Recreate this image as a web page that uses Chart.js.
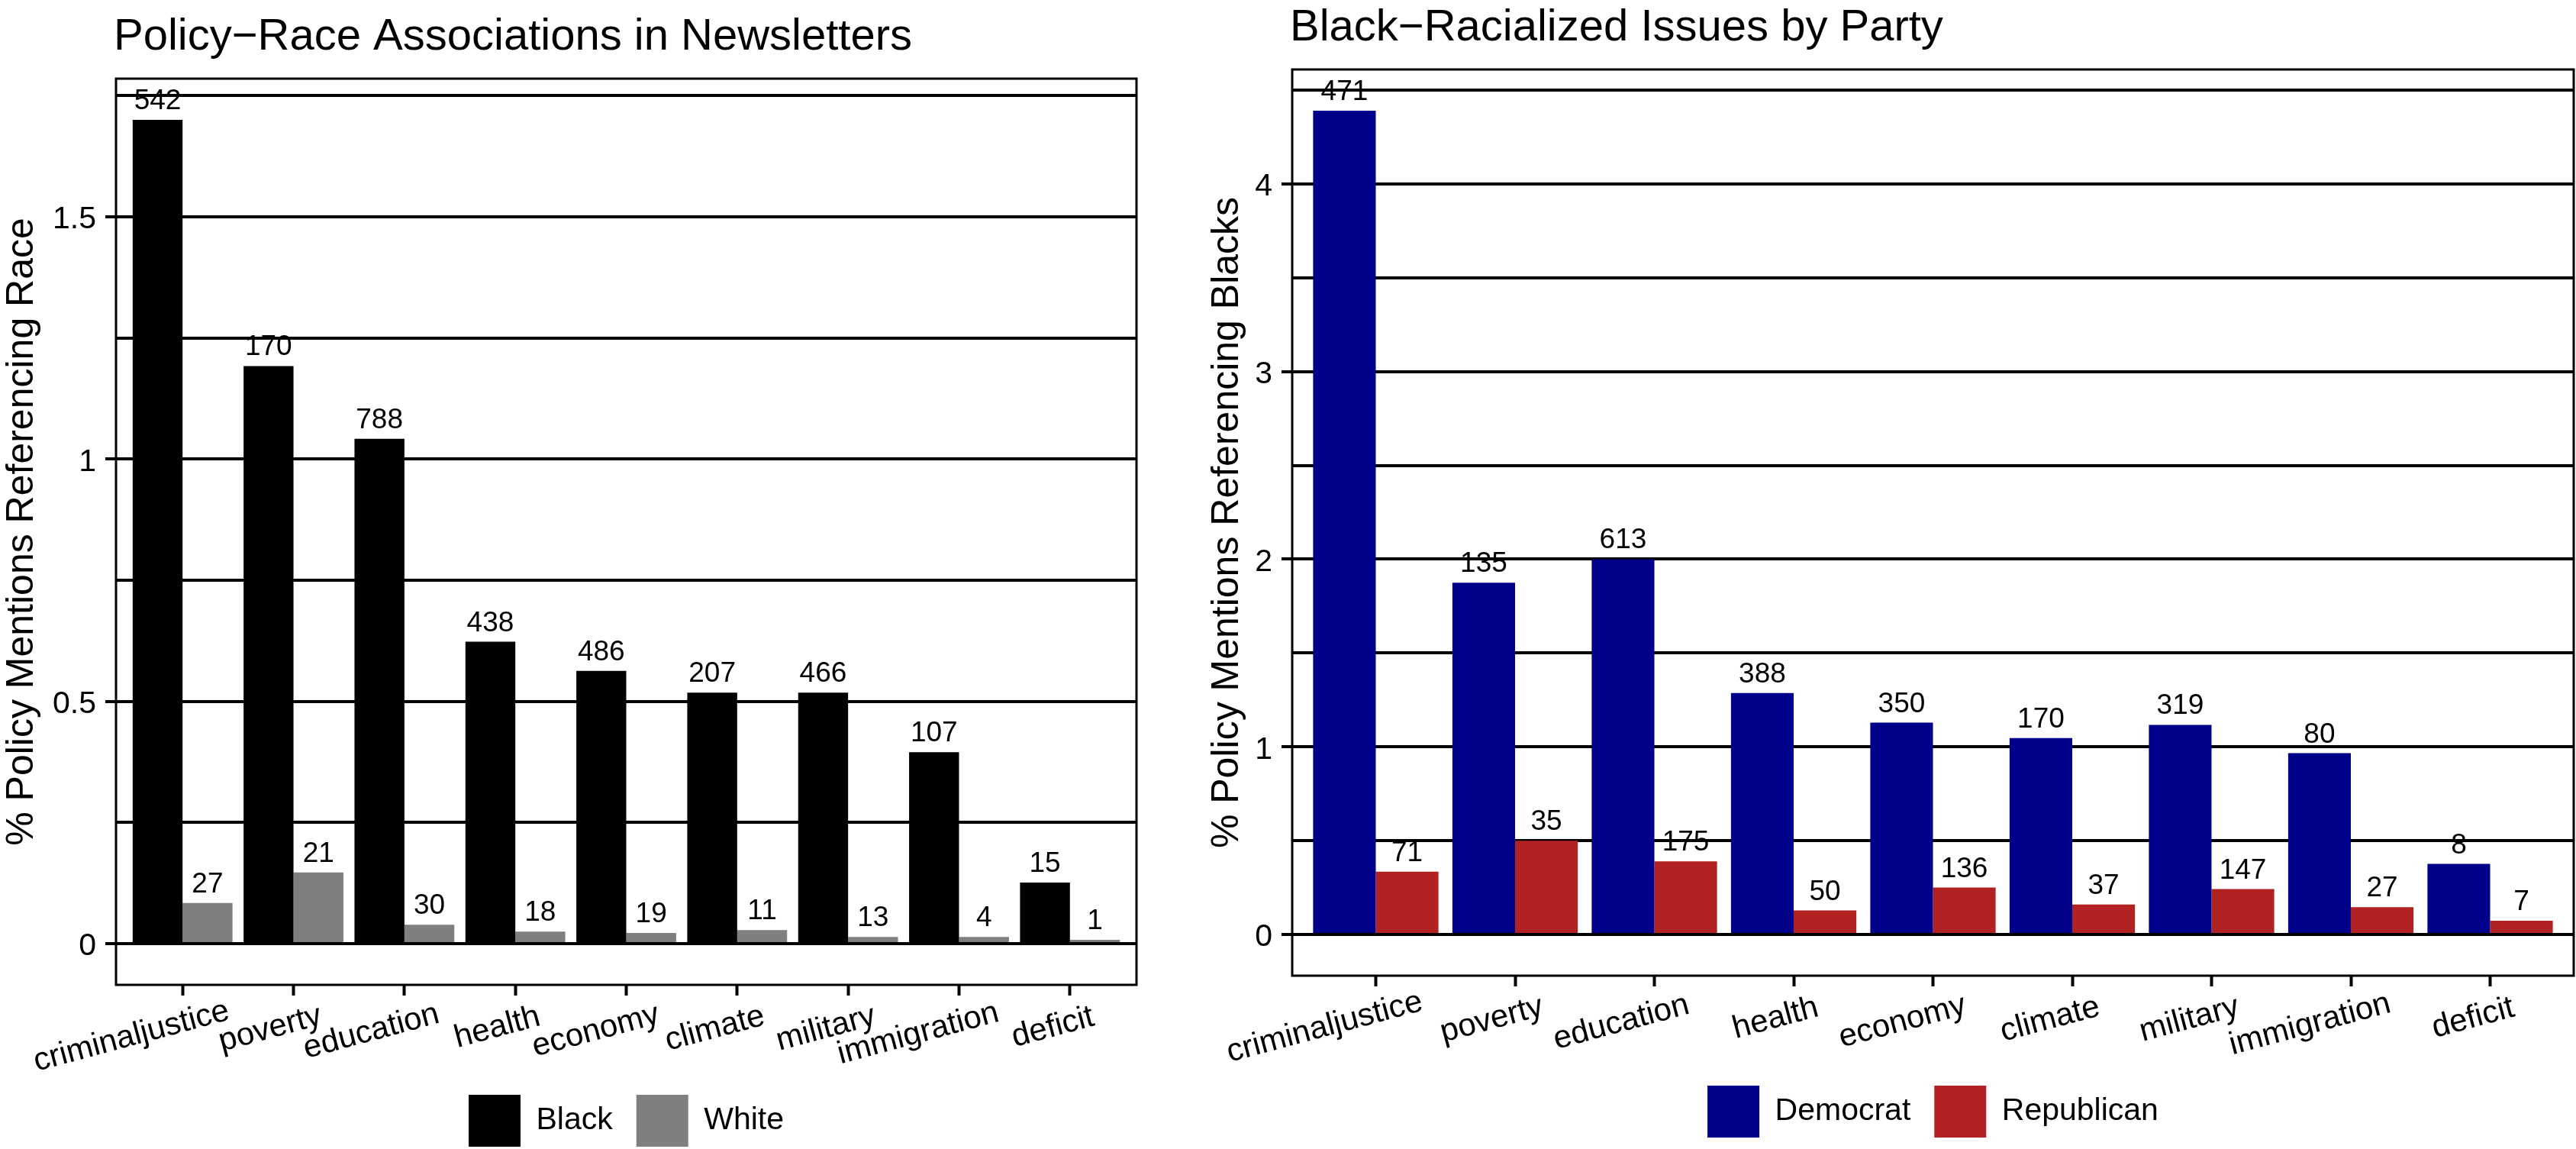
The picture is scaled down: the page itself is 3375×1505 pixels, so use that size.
<!DOCTYPE html>
<html><head><meta charset="utf-8">
<script src="https://cdn.jsdelivr.net/npm/chart.js@4.4.0/dist/chart.umd.min.js"></script>
<style>
html,body{margin:0;padding:0;background:#fff;width:3375px;height:1505px;overflow:hidden;}
.box{position:absolute;top:0;height:1505px;}
</style></head><body>
<div class="box" style="left:0;width:1500px"><canvas id="leftChart"></canvas></div>
<div class="box" style="left:1560px;width:1815px"><canvas id="rightChart"></canvas></div>
<script>
const categories = ['criminaljustice','poverty','education','health','economy','climate','military','immigration','deficit'];

const blackPct = [1.70, 1.192, 1.042, 0.623, 0.563, 0.518, 0.518, 0.395, 0.126];
const whitePct = [0.084, 0.147, 0.039, 0.025, 0.022, 0.028, 0.014, 0.014, 0.008];
const blackCounts = [542, 170, 788, 438, 486, 207, 466, 107, 15];
const whiteCounts = [27, 21, 30, 18, 19, 11, 13, 4, 1];

const demPct = [4.39, 1.875, 2.0, 1.287, 1.129, 1.047, 1.117, 0.966, 0.376];
const repPct = [0.335, 0.50, 0.39, 0.128, 0.25, 0.16, 0.242, 0.146, 0.073];
const demCounts = [471, 135, 613, 388, 350, 170, 319, 80, 8];
const repCounts = [71, 35, 175, 50, 136, 37, 147, 27, 7];

const leftYGrid = [0, 0.25, 0.5, 0.75, 1, 1.25, 1.5, 1.75];
const leftYTickLabels = [0, 0.5, 1, 1.5];
const rightYGrid = [0, 0.5, 1, 1.5, 2, 2.5, 3, 3.5, 4, 4.5];
const rightYTickLabels = [0, 1, 2, 3, 4];

const FONT = "'Liberation Sans', Arial, sans-serif";
const X_LABEL_ANGLE = 15;

function makeChart(id, p) {
  const titlePlugin = {
    id: 'panelTitle',
    afterDraw(chart) {
      const {ctx, chartArea} = chart;
      ctx.save();
      ctx.font = '58px ' + FONT;
      ctx.fillStyle = '#000';
      ctx.textAlign = 'left';
      ctx.textBaseline = 'alphabetic';
      ctx.fillText(p.title, chartArea.left - 3, chartArea.top - 38);
      ctx.restore();
    }
  };
  const framePlugin = {
    id: 'panelFrame',
    afterDatasetsDraw(chart) {
      const {ctx, chartArea: a} = chart;
      ctx.save();
      ctx.strokeStyle = '#000';
      ctx.lineWidth = 3;
      ctx.strokeRect(a.left, a.top, a.right - a.left, a.bottom - a.top);
      ctx.restore();
    }
  };
  const labelPlugin = {
    id: 'barLabels',
    afterDatasetsDraw(chart) {
      const ctx = chart.ctx;
      ctx.save();
      ctx.font = '37px ' + FONT;
      ctx.fillStyle = '#000';
      ctx.textAlign = 'center';
      ctx.textBaseline = 'alphabetic';
      chart.data.datasets.forEach((ds, di) => {
        const meta = chart.getDatasetMeta(di);
        meta.data.forEach((el, i) => {
          ctx.fillText(String(p.counts[di][i]), el.x, el.y - 14);
        });
      });
      ctx.restore();
    }
  };
  // category labels placed at the x scale's tick pixels, rotated like the original
  const xLabelPlugin = {
    id: 'xTickLabels',
    afterDraw(chart) {
      const xs = chart.scales.x, ctx = chart.ctx;
      ctx.save();
      ctx.font = '42px ' + FONT;
      ctx.fillStyle = '#000';
      ctx.textAlign = 'left';
      ctx.textBaseline = 'alphabetic';
      chart.data.labels.forEach((lab, i) => {
        const w = ctx.measureText(lab).width;
        ctx.save();
        ctx.translate(xs.getPixelForTick(i) + 12.5, xs.top + 58.5);
        ctx.rotate(-X_LABEL_ANGLE * Math.PI / 180);
        ctx.fillText(lab, -0.8 * w, 0);
        ctx.restore();
      });
      ctx.restore();
    }
  };
  const legendPlace = {
    id: 'legendPlace',
    afterLayout(chart) {
      const lg = chart.legend;
      const a = chart.chartArea;
      const h = lg.bottom - lg.top;
      lg.left = a.left; lg.right = a.right; lg.width = a.right - a.left;
      lg.top = p.legendKeyTop - 31; lg.bottom = lg.top + h;
    }
  };

  return new Chart(document.getElementById(id), {
    type: 'bar',
    data: {
      labels: categories,
      datasets: p.series.map(s => ({
        label: s.label, data: s.data, backgroundColor: s.color, borderWidth: 0,
        barPercentage: 1.0, categoryPercentage: 0.9
      }))
    },
    plugins: [legendPlace, framePlugin, labelPlugin, xLabelPlugin, titlePlugin],
    options: {
      responsive: true,
      maintainAspectRatio: false,
      animation: false,
      events: [],
      layout: { autoPadding: false, padding: { top: p.padTop, right: p.padRight, left: 0, bottom: 0 } },
      plugins: {
        tooltip: { enabled: false },
        title: { display: false },
        legend: {
          display: true,
          position: 'bottom',
          labels: {
            boxWidth: 68, boxHeight: 68, padding: 31, color: '#000',
            font: { family: FONT, size: 41 }
          }
        }
      },
      scales: {
        x: {
          type: 'category',
          offset: true,
          afterBuildTicks: s => { s._startValue = -0.6; s._valueRange = 9.2; },
          afterFit: s => { s.height = p.xAxisHeight; s.paddingLeft = 0; s.paddingRight = 0; },
          grid: { display: true, drawOnChartArea: false, drawTicks: true, tickLength: 14, tickWidth: 4, tickColor: '#000', offset: false },
          border: { display: false },
          ticks: { display: false, autoSkip: false }
        },
        y: {
          min: p.yMin, max: p.yMax,
          afterBuildTicks: s => { s.ticks = p.yGrid.map(v => ({ value: v })); },
          afterFit: s => { s.width = p.yAxisWidth; s.paddingTop = 0; s.paddingBottom = 0; },
          grid: {
            color: '#000', lineWidth: 4, drawTicks: true, tickLength: 14, tickWidth: 4,
            tickColor: c => (c.tick && p.yLabels.includes(c.tick.value)) ? '#000' : 'rgba(0,0,0,0)'
          },
          border: { display: false },
          ticks: {
            autoSkip: false, padding: 12, labelOffset: 4, color: '#000', font: { family: FONT, size: 41 },
            callback: v => p.yLabels.includes(v) ? String(v) : ''
          },
          title: {
            display: true, text: p.yTitle, color: '#000',
            font: { family: FONT, size: 50, lineHeight: 1 },
            padding: { top: p.yTitlePad, bottom: 0 }
          }
        }
      }
    }
  });
}

makeChart('leftChart', {
  title: 'Policy\u2212Race Associations in Newsletters',
  yTitle: '% Policy Mentions Referencing Race',
  series: [
    { label: 'Black', data: blackPct, color: '#000000' },
    { label: 'White', data: whitePct, color: '#7f7f7f' }
  ],
  counts: [blackCounts, whiteCounts],
  yMin: -0.085, yMax: 1.785,
  yGrid: leftYGrid, yLabels: leftYTickLabels,
  padTop: 103, padRight: 11, yAxisWidth: 152, xAxisHeight: 106,
  yTitlePad: 4, legendKeyTop: 1434
});

makeChart('rightChart', {
  title: 'Black\u2212Racialized Issues by Party',
  yTitle: '% Policy Mentions Referencing Blacks',
  series: [
    { label: 'Democrat', data: demPct, color: '#00008b' },
    { label: 'Republican', data: repPct, color: '#b22222' }
  ],
  counts: [demCounts, repCounts],
  yMin: -0.2195, yMax: 4.6095,
  yGrid: rightYGrid, yLabels: rightYTickLabels,
  padTop: 91, padRight: 3, yAxisWidth: 133, xAxisHeight: 118,
  yTitlePad: 23, legendKeyTop: 1422
});
</script>
</body></html>
